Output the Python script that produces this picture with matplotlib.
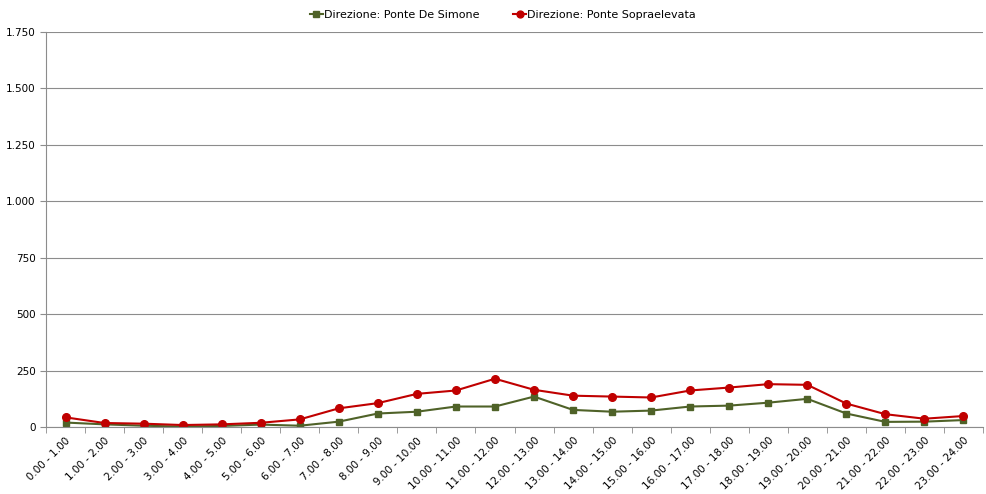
import matplotlib
matplotlib.use("Agg")
import matplotlib.pyplot as plt
from matplotlib.ticker import FuncFormatter, FixedLocator
import numpy as np

categories = [f"{h}.00 - {h+1}.00" for h in range(24)]
ponte_de_simone = [21, 13, 7, 3, 6, 12, 7, 25, 61, 69, 92, 92, 136, 77, 69, 74, 92, 96, 109, 126, 61, 24, 25, 32]
ponte_sopraelevata = [44, 19, 16, 10, 13, 20, 35, 84, 107, 148, 163, 215, 166, 140, 136, 132, 163, 176, 191, 188, 105, 58, 38, 50]
yticks = [0, 250, 500, 750, 1000, 1250, 1500, 1750]

plt.rcParams['font.family'] = ['Liberation Sans Narrow', 'DejaVu Sans']

fig = plt.figure(figsize=(9.86, 4.94), dpi=100)
ax = fig.add_axes([46/986, (494-427.3)/494, (983-46)/986, (427.3-32)/494])

x = np.arange(len(categories))
ax.plot(x, ponte_de_simone, color='#4F6228', marker='s', markersize=5, linewidth=1.5,
        label='Direzione: Ponte De Simone')
ax.plot(x, ponte_sopraelevata, color='#C00000', marker='o', markersize=5.5, linewidth=1.5,
        label='Direzione: Ponte Sopraelevata')

ax.set_xlim(-0.5, len(categories) - 0.5)
ax.set_ylim(0, 1750)
ax.set_yticks(yticks)
ax.yaxis.set_major_formatter(FuncFormatter(lambda v, p: f"{int(v):,}".replace(",", ".")))
ax.grid(axis='y', color='#8C8C8C', linewidth=0.8)
ax.set_axisbelow(True)

ax.set_xticks(x)
ax.set_xticklabels(categories, rotation=45, ha='right', rotation_mode='anchor', fontsize=7.5)
ax.tick_params(axis='x', length=0, pad=6)
ax.xaxis.set_minor_locator(FixedLocator(np.arange(-0.5, len(categories) + 0.5, 1)))
ax.tick_params(axis='x', which='minor', length=4, color='#8C8C8C')
ax.tick_params(axis='y', length=4, color='#8C8C8C', labelsize=7.5)

for s in ['top', 'right']:
    ax.spines[s].set_visible(False)
for s in ['left', 'bottom']:
    ax.spines[s].set_color('#8C8C8C')

fig.legend(loc='upper center', bbox_to_anchor=(0.51, 1.0), ncol=2, frameon=False,
           fontsize=8, handlelength=1.2, handletextpad=0.1, columnspacing=3, markerscale=0.9)

fig.savefig('out.png', dpi=100)
